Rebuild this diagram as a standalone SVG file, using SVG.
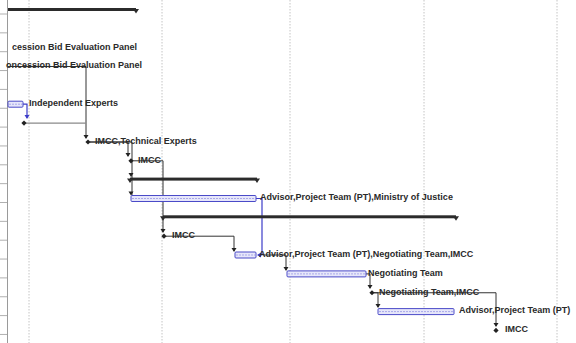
<svg xmlns="http://www.w3.org/2000/svg" width="576" height="343" viewBox="0 0 576 343">
  <defs>
    <style>
      .lbl { font-family: "Liberation Sans", Arial, sans-serif; font-size: 9px; font-weight: bold; fill: #2a2a2a; }
      .grid { stroke: #c4c4c4; stroke-width: 1; stroke-dasharray: 1.5 1.5; }
      .tick { stroke: #b0b0b0; stroke-width: 1; }
      .task { fill: #e6e6fa; stroke: #4a4ac8; stroke-width: 1; }
      .hatch { stroke: #a8a8e8; stroke-width: 1; stroke-dasharray: 2 1; }
      .sum { fill: #2b2b2b; }
      .ms { fill: #222; }
      .lnk { fill: none; stroke: #333; stroke-width: 1; }
      .lnkg { fill: none; stroke: #8a8a8a; stroke-width: 1.2; }
      .lnkb { fill: none; stroke: #3c3cc8; stroke-width: 1.2; }
      .ah { fill: #222; }
      .ahb { fill: #3c3cc8; }
    </style>
    <!-- arrowhead pointing down, tip at origin -->
    <path id="down" d="M-2.5,-4 L2.5,-4 L0,0 Z"/>
    <!-- milestone diamond -->
    <path id="dia" d="M0,-2.6 L2.6,0 L0,2.6 L-2.6,0 Z"/>
  </defs>

  <rect width="576" height="343" fill="#ffffff"/>

  <!-- timescale gridlines -->
  <g id="grid">
    <line class="grid" x1="29" y1="0" x2="29" y2="343"/>
    <line class="grid" x1="162" y1="0" x2="162" y2="343"/>
    <line class="grid" x1="290" y1="0" x2="290" y2="343"/>
    <line class="grid" x1="424" y1="0" x2="424" y2="343"/>
    <line class="grid" x1="557" y1="0" x2="557" y2="343"/>
    <line x1="7.5" y1="0" x2="7.5" y2="343" stroke="#9a9a9a" stroke-width="1"/>
    <line class="tick" x1="0" y1="14" x2="7" y2="14"/>
    <line class="tick" x1="0" y1="32.85" x2="7" y2="32.85"/>
    <line class="tick" x1="0" y1="51.7" x2="7" y2="51.7"/>
    <line class="tick" x1="0" y1="70.55" x2="7" y2="70.55"/>
    <line class="tick" x1="0" y1="89.4" x2="7" y2="89.4"/>
    <line class="tick" x1="0" y1="108.25" x2="7" y2="108.25"/>
    <line class="tick" x1="0" y1="127.1" x2="7" y2="127.1"/>
    <line class="tick" x1="0" y1="145.95" x2="7" y2="145.95"/>
    <line class="tick" x1="0" y1="164.8" x2="7" y2="164.8"/>
    <line class="tick" x1="0" y1="183.65" x2="7" y2="183.65"/>
    <line class="tick" x1="0" y1="202.5" x2="7" y2="202.5"/>
    <line class="tick" x1="0" y1="221.35" x2="7" y2="221.35"/>
    <line class="tick" x1="0" y1="240.2" x2="7" y2="240.2"/>
    <line class="tick" x1="0" y1="259.05" x2="7" y2="259.05"/>
    <line class="tick" x1="0" y1="277.9" x2="7" y2="277.9"/>
    <line class="tick" x1="0" y1="296.75" x2="7" y2="296.75"/>
    <line class="tick" x1="0" y1="315.6" x2="7" y2="315.6"/>
    <line class="tick" x1="0" y1="334.45" x2="7" y2="334.45"/>
  </g>

  <!-- dependency links -->
  <g id="connectors">
    <path class="lnk" d="M8,66.5 H86 V138"/>
    <use href="#down" class="ah" x="86" y="139"/>
    <path class="lnkg" d="M25,123.1 H86"/>
    <path class="lnkb" d="M23,104.2 H27 V118"/>
    <use href="#down" class="ahb" x="27" y="119"/>
    <path class="lnk" d="M90,142 H128 V156"/>
    <use href="#down" class="ah" x="128" y="157"/>
    <path class="lnk" d="M90,142 H132 V195"/>
    <use href="#down" class="ah" x="131" y="177"/>
    <use href="#down" class="ah" x="131" y="195.5"/>
    <path class="lnk" d="M133,160.8 H163 V232"/>
    <use href="#down" class="ah" x="163" y="233"/>
    <path class="lnkb" d="M256,198.5 H262 V255 H258"/>
    <use href="#down" class="ahb" transform="translate(257,255) rotate(90)"/>
    <path class="lnk" d="M166,236.2 H234 V251"/>
    <use href="#down" class="ah" x="234" y="252"/>
    <path class="lnk" d="M263,255 H286 V270"/>
    <use href="#down" class="ah" x="286" y="271"/>
    <path class="lnk" d="M366,273.9 H370 V288"/>
    <use href="#down" class="ah" x="370" y="289"/>
    <path class="lnk" d="M374,292.75 H378 V307"/>
    <use href="#down" class="ah" x="378" y="308"/>
    <path class="lnk" d="M374,292.75 H496 V326"/>
    <use href="#down" class="ah" x="496" y="327"/>
  </g>

  <!-- row 0: summary -->
  <g id="summary-0">
    <rect class="sum" x="8" y="8" width="128" height="3"/>
    <path class="sum" d="M133,9 L139,9 L136,13.5 Z"/>
  </g>

  <g id="task-2">
    <text class="lbl" x="12" y="49.5">cession Bid Evaluation Panel</text>
  </g>

  <g id="task-3">
    <text class="lbl" x="6" y="68.35">oncession Bid Evaluation Panel</text>
  </g>

  <g id="task-5">
    <rect class="task" x="8" y="101.2" width="15" height="6" rx="1"/>
    <line class="hatch" x1="9" y1="104.2" x2="22" y2="104.2"/>
    <text class="lbl" x="29" y="106.05">Independent Experts</text>
  </g>

  <g id="milestone-6">
    <use href="#dia" class="ms" x="24" y="123.1"/>
  </g>

  <g id="milestone-7">
    <use href="#dia" class="ms" x="88" y="142"/>
    <text class="lbl" x="95" y="143.75">IMCC,Technical Experts</text>
  </g>

  <g id="milestone-8">
    <use href="#dia" class="ms" x="131" y="160.8"/>
    <text class="lbl" x="138" y="162.6">IMCC</text>
  </g>

  <g id="summary-9">
    <rect class="sum" x="130" y="177.6" width="127" height="3"/>
    <path class="sum" d="M127,178.6 L133,178.6 L130,183 Z"/>
    <path class="sum" d="M254,178.6 L260,178.6 L257,183 Z"/>
  </g>

  <g id="task-10">
    <rect class="task" x="131" y="195.5" width="125" height="6" rx="1"/>
    <line class="hatch" x1="132" y1="198.5" x2="255" y2="198.5"/>
    <text class="lbl" x="260" y="200.3">Advisor,Project Team (PT),Ministry of Justice</text>
  </g>

  <g id="summary-11">
    <rect class="sum" x="163" y="215.3" width="293" height="3"/>
    <path class="sum" d="M160,216.3 L166,216.3 L163,220.7 Z"/>
    <path class="sum" d="M453,216.3 L459,216.3 L456,220.7 Z"/>
  </g>

  <g id="milestone-12">
    <use href="#dia" class="ms" x="164" y="236.2"/>
    <text class="lbl" x="172" y="238">IMCC</text>
  </g>

  <g id="task-13">
    <rect class="task" x="235" y="252" width="21" height="6" rx="1"/>
    <line class="hatch" x1="236" y1="255" x2="255" y2="255"/>
    <text class="lbl" x="259" y="256.85">Advisor,Project Team (PT),Negotiating Team,IMCC</text>
  </g>

  <g id="task-14">
    <rect class="task" x="287" y="270.9" width="79" height="6" rx="1"/>
    <line class="hatch" x1="288" y1="273.9" x2="365" y2="273.9"/>
    <text class="lbl" x="368" y="275.7">Negotiating Team</text>
  </g>

  <g id="milestone-15">
    <use href="#dia" class="ms" x="372" y="292.75"/>
    <text class="lbl" x="379" y="294.55">Negotiating Team,IMCC</text>
  </g>

  <g id="task-16">
    <rect class="task" x="378" y="308.6" width="76" height="6" rx="1"/>
    <line class="hatch" x1="379" y1="311.6" x2="453" y2="311.6"/>
    <text class="lbl" x="459" y="313.4">Advisor,Project Team (PT)</text>
  </g>

  <g id="milestone-17">
    <use href="#dia" class="ms" x="496" y="330.45"/>
    <text class="lbl" x="505" y="332.25">IMCC</text>
  </g>
</svg>
